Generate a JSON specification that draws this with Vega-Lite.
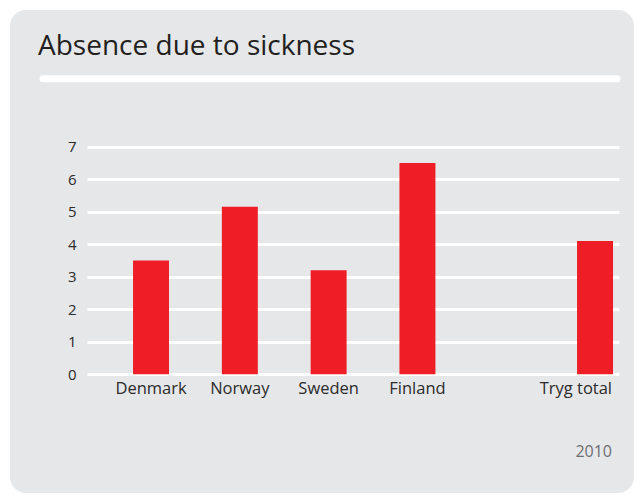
{
  "$schema": "https://vega.github.io/schema/vega-lite/v6.json",
  "width": 624,
  "height": 483,
  "autosize": "none",
  "padding": {"left": 10, "top": 10, "right": 5, "bottom": 2},
  "background": "#ffffff",
  "config": {
    "font": "Open Sans",
    "view": {"fill": "#e6e7e9", "stroke": null, "cornerRadius": 16}
  },
  "layer": [
    {
      "data": {
        "values": [
          {"country": "Denmark", "absence": 3.5},
          {"country": "Norway", "absence": 5.15},
          {"country": "Sweden", "absence": 3.2},
          {"country": "Finland", "absence": 6.5},
          {"country": "Tryg total", "absence": 4.1}
        ]
      },
      "mark": {"type": "bar", "color": "#ee1d26", "clip": false},
      "encoding": {
        "x": {
          "field": "country",
          "type": "nominal",
          "sort": null,
          "scale": {
            "domain": ["Denmark", "Norway", "Sweden", "Finland", " ", "Tryg total"],
            "range": [77, 609],
            "paddingInner": 0.595,
            "paddingOuter": 0.293,
            "align": 0.885
          },
          "axis": {
            "title": null,
            "orient": "bottom",
            "offset": -118.7,
            "domain": false,
            "ticks": false,
            "labelAngle": 0,
            "labelPadding": 6,
            "labelFontSize": 16.5,
            "labelColor": "#2b2b2b",
            "labelAlign": {"condition": {"test": "datum.value === 'Tryg total'", "value": "right"}, "value": "center"},
            "labelOffset": {"condition": {"test": "datum.value === 'Tryg total'", "value": 17}, "value": 0},
            "grid": false
          }
        },
        "y": {
          "field": "absence",
          "type": "quantitative",
          "scale": {"domain": [0, 7], "range": [364.3, 136.7], "nice": false, "zero": true},
          "axis": {
            "title": null,
            "orient": "left",
            "offset": -77,
            "values": [0, 1, 2, 3, 4, 5, 6, 7],
            "format": "d",
            "domain": false,
            "ticks": false,
            "labelPadding": 11,
            "labelFontSize": 15,
            "labelColor": "#2b2b2b",
            "grid": true,
            "gridColor": "#ffffff",
            "gridWidth": 3,
            "gridOpacity": 1
          }
        }
      }
    },
    {
      "data": {"values": [{"heading": "Absence due to sickness"}]},
      "mark": {
        "type": "text",
        "align": "left",
        "baseline": "alphabetic",
        "fontSize": 28,
        "color": "#231f20",
        "clip": false
      },
      "encoding": {
        "text": {"field": "heading"},
        "x": {"datum": 4.49, "type": "quantitative", "scale": {"domain": [0, 100]}, "axis": null},
        "y": {"datum": 9.82, "type": "quantitative", "scale": {"domain": [0, 7], "range": [364.3, 136.7], "nice": false}}
      }
    },
    {
      "data": {"values": [{"part": "title rule"}]},
      "mark": {"type": "rule", "color": "#ffffff", "strokeWidth": 7, "strokeCap": "round", "clip": false},
      "encoding": {
        "x": {"datum": 5.29, "type": "quantitative", "scale": {"domain": [0, 100]}, "axis": null},
        "x2": {"datum": 97.28},
        "y": {"datum": 9.09, "type": "quantitative", "scale": {"domain": [0, 7], "range": [364.3, 136.7], "nice": false}}
      }
    },
    {
      "data": {"values": [{"year": "2010"}]},
      "mark": {
        "type": "text",
        "align": "right",
        "baseline": "alphabetic",
        "fontSize": 16,
        "color": "#6d6e71",
        "clip": false
      },
      "encoding": {
        "text": {"field": "year"},
        "x": {"datum": 96.47, "type": "quantitative", "scale": {"domain": [0, 100]}, "axis": null},
        "y": {"datum": -2.54, "type": "quantitative", "scale": {"domain": [0, 7], "range": [364.3, 136.7], "nice": false}}
      }
    }
  ],
  "resolve": {"scale": {"x": "independent"}, "axis": {"x": "independent"}}
}
